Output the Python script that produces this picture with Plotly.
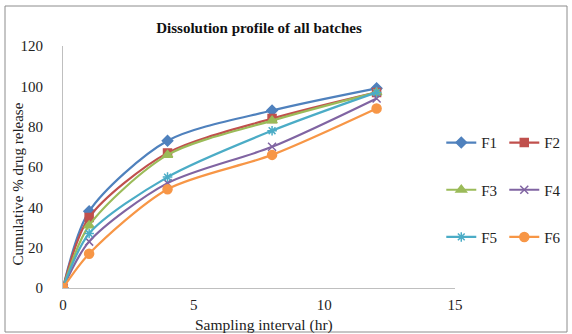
import plotly.graph_objects as go

x_hours = [0, 1, 4, 8, 12]
series_names = ["F1", "F2", "F3", "F4", "F5", "F6"]
F1 = [0, 38, 73, 88, 99]
F2 = [0, 35, 67, 84, 97]
F3 = [0, 31, 66, 83, 97]
F4 = [0, 23, 52, 70, 94]
F5 = [0, 27, 55, 78, 97]
F6 = [0, 17, 49, 66, 89]
values = [F1, F2, F3, F4, F5, F6]

colors = ["#4F81BD", "#C0504D", "#9BBB59", "#8064A2", "#4BACC6", "#F79646"]
symbols = ["diamond", "square", "triangle-up", "x-thin", "asterisk", "circle"]
msizes = [8, 8, 9, 8, 8, 9]
legends = ["legend", "legend", "legend2", "legend2", "legend3", "legend3"]

fig = go.Figure()
for name, vals, c, s, ms, lg in zip(series_names, values, colors, symbols, msizes, legends):
    fig.add_trace(go.Scatter(
        x=x_hours, y=vals, name=name, mode="lines+markers",
        line=dict(color=c, width=2.2, shape="spline", smoothing=0.8),
        marker=dict(symbol=s, size=ms, color=c, line=dict(color=c, width=1.5)),
        legend=lg,
    ))

serif = "Liberation Serif, Times New Roman, serif"
leg_common = dict(orientation="h", xanchor="left", yanchor="middle",
                  font=dict(family=serif, size=15, color="#222"),
                  bgcolor="rgba(0,0,0,0)", itemwidth=30, tracegroupgap=0,
                  entrywidth=18, entrywidthmode="pixels")

fig.update_layout(
    width=572, height=334,
    margin=dict(l=63, r=117, t=46, b=46, autoexpand=False),
    paper_bgcolor="white", plot_bgcolor="white",
    title=dict(text="<b>Dissolution profile of all batches</b>",
               font=dict(family=serif, size=15, color="#111"),
               x=0.5, xref="paper", xanchor="center", y=0.918, yanchor="middle"),
    xaxis=dict(range=[0, 15], tickvals=[0, 5, 10, 15], showgrid=False, zeroline=False,
               showline=True, linecolor="#bfbfbf", linewidth=1, ticks="",
               ticklabelstandoff=3,
               tickfont=dict(family=serif, size=15, color="#222")),
    yaxis=dict(range=[0, 120], tickvals=[0, 20, 40, 60, 80, 100, 120], showgrid=False,
               zeroline=False, showline=True, linecolor="#bfbfbf", linewidth=1, ticks="",
               ticklabelstandoff=16,
               tickfont=dict(family=serif, size=15, color="#222")),
    legend=dict(x=0.965, y=0.60, **leg_common),
    legend2=dict(x=0.965, y=0.405, **leg_common),
    legend3=dict(x=0.965, y=0.21, **leg_common),
    showlegend=True,
)

fig.add_annotation(text="Sampling interval (hr)", xref="paper", yref="paper",
                   x=(264 - 63) / 392, y=-(325 - 288) / 242, xanchor="center", yanchor="middle",
                   showarrow=False, font=dict(family=serif, size=15.5, color="#222"))
fig.add_annotation(text="Cumulative % drug release", xref="paper", yref="paper",
                   x=(17 - 63) / 392, y=(288 - 184.5) / 242, xanchor="center", yanchor="middle",
                   textangle=-90, showarrow=False,
                   font=dict(family=serif, size=15, color="#222"))

fig.add_shape(type="rect", xref="paper", yref="paper",
              x0=-58/392, x1=(567-63)/392, y0=-(332-288)/242, y1=(288-6)/242,
              line=dict(color="#8c8c8c", width=1), fillcolor="rgba(0,0,0,0)", layer="below")

fig.write_html("out.html")
